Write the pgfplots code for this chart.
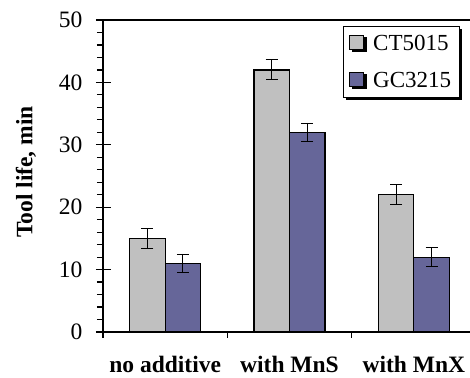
\documentclass[border=0pt]{standalone}
\usepackage{fontspec}
\setmainfont{Liberation Serif}
\usepackage{pgfplots}
\pgfplotsset{compat=1.18}
\usetikzlibrary{shadows}
\definecolor{ctgray}{RGB}{192,192,192}
\definecolor{gcblue}{RGB}{102,102,153}
\pgfplotsset{sqlegend/.style={legend image code/.code={\draw[##1, line width=0.8bp, draw=black] (0bp,-6bp) rectangle (14bp,8bp);}}}
\begin{document}
\begin{tikzpicture}
\begin{axis}[
  name=ax,
  scale only axis,
  width=367bp, height=312bp,
  xmin=-0.5, xmax=2.452,
  ymin=0, ymax=50,
  axis x line=box, axis y line=left,
  axis line style={line width=1.6bp, -},
  ybar=0pt, bar width=35.5bp,
  xtick={0,1,2},
  xticklabels={no additive, with MnS, with MnX},
  minor xtick={-0.5,0.5,1.5},
  xtick pos=bottom,
  major x tick style={draw=none},
  ytick={0,10,20,30,40,50},
  minor ytick={2,4,6,8,12,14,16,18,22,24,26,28,32,34,36,38,42,44,46,48},
  tick align=outside,
  major tick length=15bp,
  minor tick length=6bp,
  every major y tick/.append style={xshift=8bp},
  tick style={line width=1.2bp, black},
  /pgf/number format/assume math mode=true,
  yticklabel style={font=\fontsize{23.5bp}{27bp}\selectfont, xshift=-2bp},
  xticklabel style={font=\fontsize{23.5bp}{27bp}\selectfont\bfseries, anchor=base, yshift=-26bp},
  ylabel={Tool life, min},
  ylabel style={font=\fontsize{23.5bp}{27bp}\selectfont\bfseries, at={(axis description cs:-0.2098,0.513)}, anchor=center},
  legend style={at={(0.654,0.982)}, anchor=north west, draw=black, line width=0.8bp, fill=white,
    font=\fontsize{23bp}{27bp}\selectfont, row sep=16bp, column sep=7bp, inner xsep=6bp, inner ysep=7bp,
    drop shadow={shadow xshift=2.5bp, shadow yshift=-2.5bp, fill=black, opacity=1}},
  legend cell align=left,
  error bars/y dir=both, error bars/y explicit,
  error bars/error bar style={line width=0.9bp, black},
  error bars/error mark options={rotate=90, mark size=6bp, line width=0.9bp, black},
]
\addplot[fill=ctgray, draw=black, line width=1.2bp, sqlegend] coordinates {(0,15) +- (0,1.6) (1,42) +- (0,1.6) (2,22) +- (0,1.6)};
\addplot[fill=gcblue, draw=black, line width=1.2bp, sqlegend] coordinates {(0,11) +- (0,1.5) (1,32) +- (0,1.5) (2,12) +- (0,1.5)};
\legend{CT5015, GC3215}
\end{axis}
\pgfresetboundingbox
\path (ax.south west) ++(-103bp,-46bp) coordinate (bbA);
\path (ax.north east) ++(0bp,20bp) coordinate (bbB);
\useasboundingbox (bbA) rectangle (bbB);
\end{tikzpicture}
\end{document}
